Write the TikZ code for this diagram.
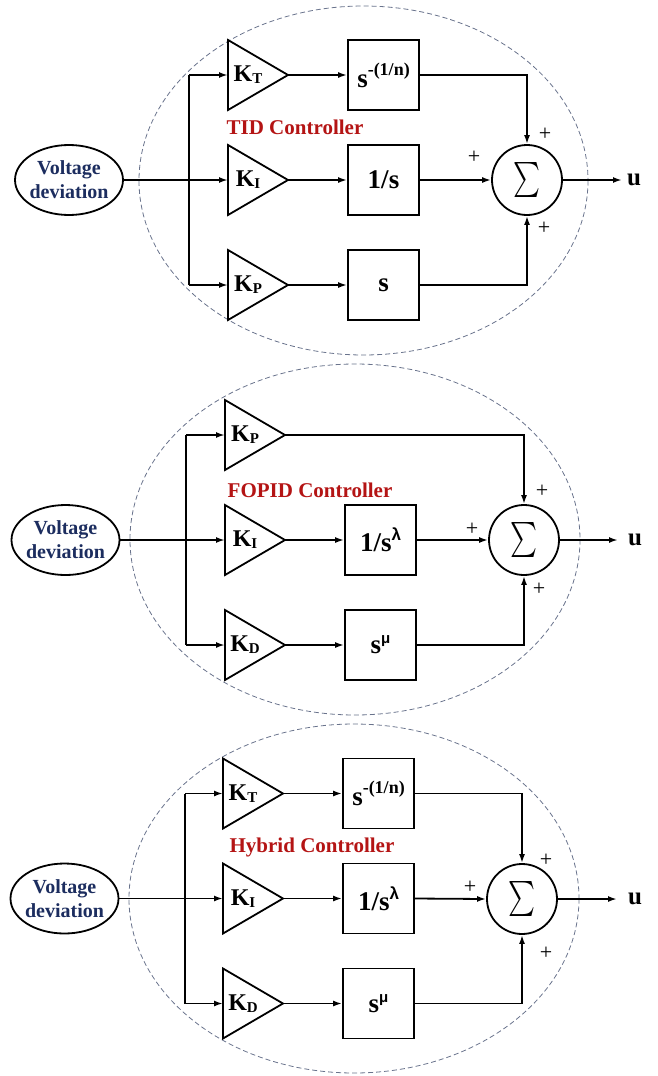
\documentclass[tikz,border=0pt]{standalone}
\usepackage{fontspec}
\setmainfont{Liberation Serif}
\setsansfont{Liberation Sans}
\usetikzlibrary{shapes.geometric,arrows.meta}
\definecolor{vdblue}{RGB}{28,45,95}
\definecolor{ctred}{RGB}{180,20,20}
\definecolor{dashc}{RGB}{105,115,140}
\newcommand{\upx}[2]{\raisebox{#1}{\fontsize{18}{18}\selectfont #2}}
\newcommand{\grk}[3]{\raisebox{#1}{\fontsize{#2}{#2}\selectfont\sffamily\bfseries #3}}
\tikzset{
  line/.style={line width=1.8pt},
  arr/.style={line width=1.8pt,-{Latex[length=9pt,width=6pt]}},
  blk/.style={draw,line width=1.8pt,minimum width=71pt,minimum height=70pt,inner sep=0pt,font=\fontsize{27}{27}\selectfont\bfseries},
  vd/.style={ellipse,draw,line width=1.8pt,minimum width=108pt,minimum height=70pt,inner sep=0pt,inner xsep=-3pt,align=center,text=vdblue,font=\fontsize{20}{24}\selectfont\bfseries},
  sumc/.style={circle,draw,line width=1.8pt,minimum size=70pt,inner sep=0pt},
  outerell/.style={draw=dashc,dash pattern=on 5pt off 3pt,line width=0.8pt},
  ttl/.style={text=ctred,font=\fontsize{21}{21}\selectfont\bfseries,inner sep=0pt},
  plus/.style={font=\fontsize{22}{22}\selectfont,inner sep=0pt},
  uout/.style={font=\fontsize{25}{25}\selectfont\bfseries,anchor=west,inner sep=0pt},
  tri/.style={draw,line width=1.8pt,line join=miter},
  glab/.style={inner sep=0pt,font=\fontsize{24}{24}\selectfont\bfseries}
}
% name, centre y, subscript
\newcommand{\amptri}[3]{%
  \draw[tri] (228,#2-35) -- (288,#2) -- (228,#2+35) -- cycle;
  \coordinate (#1in) at (228,#2);
  \coordinate (#1out) at (288,#2);
  \node[glab] (#1) at (248,#2) {K\raisebox{-2pt}{\fontsize{15}{15}\selectfont #3}};
}
\begin{document}
\begin{tikzpicture}[x=1pt,y=-1pt]
\useasboundingbox (0,0) rectangle (657,1076);

% ---------------- TID ----------------
\begin{scope}
\draw[outerell] (363.5,180.5) ellipse [x radius=224.5, y radius=174.5];
\node[vd] (avd) at (69,180) {Voltage\\deviation};
\amptri{aka}{75}{T}
\amptri{akb}{180}{I}
\amptri{akc}{285}{P}
\coordinate (abt) at (189,75);
\coordinate (abb) at (189,285);
\draw[line] (abt) -- (abb);
\draw[arr] (avd.east) -- (akbin);
\draw[arr] (abt) -- (akain);
\draw[arr] (abb) -- (akcin);
\node[blk] (aba) at (383.5,75) {s\upx{12pt}{-(1/n)}};
\node[blk] (abm) at (383.5,180) {1/s};
\node[blk] (abc) at (383.5,285) {s};
\draw[arr] (akaout) -- (aba.west);
\draw[arr] (akbout) -- (abm.west);
\draw[arr] (akcout) -- (abc.west);
\node[sumc] (asum) at (527,180) {\resizebox*{27pt}{35pt}{$\sum$}};
\draw[arr] (aba.east) -| (asum.north);
\draw[arr] (abm.east) -- (asum.west);
\draw[arr] (abc.east) -| (asum.south);
\coordinate (aout) at (622,180);
\draw[arr] (asum.east) -- (aout);
\node[uout] (au) at (627,180) {u};
\node[plus] (ap1) at (545,134) {+};
\node[plus] (ap2) at (474,157) {+};
\node[plus] (ap3) at (544,228) {+};
\node[ttl] (att) at (295,127) {TID Controller};
\end{scope}

% ---------------- FOPID ----------------
\begin{scope}[shift={(-3,360)}]
\draw[outerell] (358,179.5) ellipse [x radius=225, y radius=175.5];
\node[vd] (bvd) at (68.5,180) {Voltage\\deviation};
\amptri{bka}{75}{P}
\amptri{bkb}{180}{I}
\amptri{bkc}{285}{D}
\coordinate (bbt) at (189,75);
\coordinate (bbb) at (189,285);
\draw[line] (bbt) -- (bbb);
\draw[arr] (bvd.east) -- (bkbin);
\draw[arr] (bbt) -- (bkain);
\draw[arr] (bbb) -- (bkcin);
\node[blk] (bbm) at (383.5,180) {1/s\grk{11pt}{17}{λ}};
\node[blk] (bbc) at (383.5,285) {s\grk{10pt}{15}{μ}};
\draw[arr] (bkbout) -- (bbm.west);
\draw[arr] (bkcout) -- (bbc.west);
\node[sumc] (bsum) at (527,180) {\resizebox*{27pt}{35pt}{$\sum$}};
\draw[arr] (bkaout) -| (bsum.north);
\draw[arr] (bbm.east) -- (bsum.west);
\draw[arr] (bbc.east) -| (bsum.south);
\coordinate (bout) at (621,180);
\draw[arr] (bsum.east) -- (bout);
\node[uout] (bu) at (631,180) {u};
\node[plus] (bp1) at (545,131) {+};
\node[plus] (bp2) at (475,169) {+};
\node[plus] (bp3) at (542,229) {+};
\node[ttl] (btt) at (313,130) {FOPID Controller};
\end{scope}

% ---------------- Hybrid ----------------
\begin{scope}[shift={(-5,718.5)}]
\draw[outerell] (359,180) ellipse [x radius=225, y radius=174.5];
\node[vd] (cvd) at (69.5,180) {Voltage\\deviation};
\amptri{cka}{75}{T}
\amptri{ckb}{180}{I}
\amptri{ckc}{285}{D}
\coordinate (cbt) at (190,75);
\coordinate (cbb) at (190,285);
\draw[line] (cbt) -- (cbb);
\draw[arr] (cvd.east) -- (ckbin);
\draw[arr] (cbt) -- (ckain);
\draw[arr] (cbb) -- (ckcin);
\node[blk] (cba) at (383.5,75) {s\upx{12pt}{-(1/n)}};
\node[blk] (cbm) at (383.5,180) {1/s\grk{11pt}{17}{λ}};
\node[blk] (cbc) at (383.5,285) {s\grk{10pt}{15}{μ}};
\draw[arr] (ckaout) -- (cba.west);
\draw[arr] (ckbout) -- (cbm.west);
\draw[arr] (ckcout) -- (cbc.west);
\node[sumc] (csum) at (527,180.5) {\resizebox*{27pt}{35pt}{$\sum$}};
\draw[arr] (cba.east) -| (csum.north);
\draw[arr] (cbm.east) -- (csum.west);
\draw[arr] (cbc.east) -| (csum.south);
\coordinate (cout) at (622,180.5);
\draw[arr] (csum.east) -- (cout);
\node[uout] (cu) at (633,180.5) {u};
\node[plus] (cp1) at (551,141.5) {+};
\node[plus] (cp2) at (475,168.5) {+};
\node[plus] (cp3) at (551,234.5) {+};
\node[ttl] (ctt) at (317,128.5) {Hybrid Controller};
\end{scope}
\end{tikzpicture}
\end{document}
